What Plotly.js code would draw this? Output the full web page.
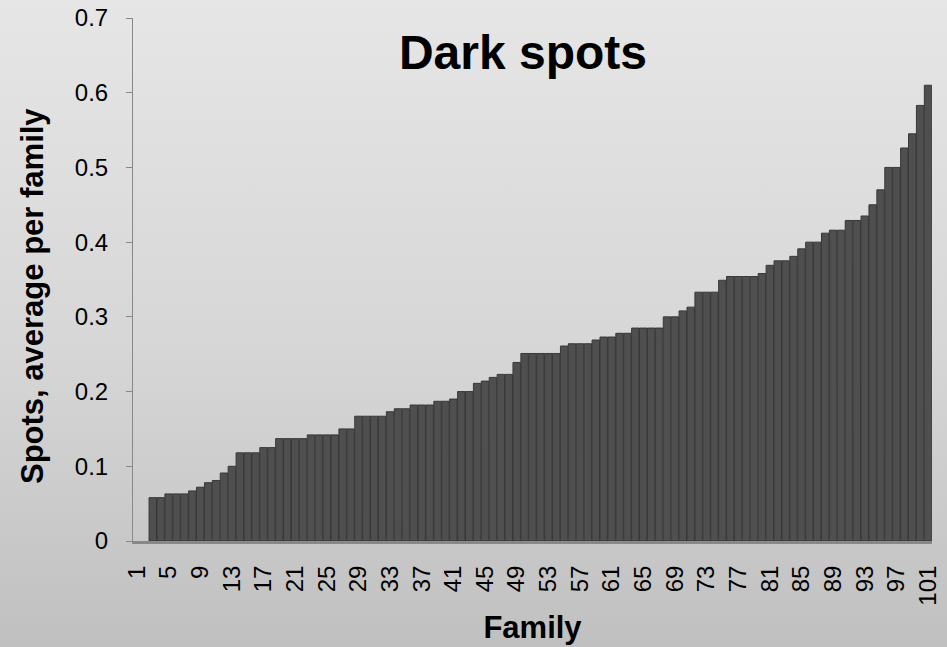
<!DOCTYPE html>
<html>
<head>
<meta charset="utf-8">
<script src="https://cdn.plot.ly/plotly-3.0.1.min.js"></script>
<style>
  html, body { margin: 0; padding: 0; }
  body { width: 947px; height: 647px; background: linear-gradient(to bottom, #e6e6e6 0%, #d6d6d6 55%, #c0c0c0 100%); }
  #chart { width: 947px; height: 647px; }
</style>
</head>
<body>
<div id="chart"></div>
<script>
const families = [];
for (let i = 1; i <= 101; i++) families.push(i);

// families 1 and 2 have no bar in the reference
const spots = [
  null, null, 0.058, 0.058, 0.063, 0.063, 0.063, 0.067, 0.072, 0.078,
  0.081, 0.091, 0.100, 0.118, 0.118, 0.118, 0.125, 0.125, 0.137, 0.137,
  0.137, 0.137, 0.142, 0.142, 0.142, 0.142, 0.150, 0.150, 0.167, 0.167,
  0.167, 0.167, 0.173, 0.177, 0.177, 0.182, 0.182, 0.182, 0.187, 0.187,
  0.190, 0.200, 0.200, 0.211, 0.214, 0.219, 0.223, 0.223, 0.239, 0.251,
  0.251, 0.251, 0.251, 0.251, 0.261, 0.264, 0.264, 0.264, 0.269, 0.273,
  0.273, 0.278, 0.278, 0.285, 0.285, 0.285, 0.285, 0.300, 0.300, 0.308,
  0.313, 0.333, 0.333, 0.333, 0.349, 0.354, 0.354, 0.354, 0.354, 0.358,
  0.369, 0.375, 0.375, 0.381, 0.391, 0.400, 0.400, 0.412, 0.416, 0.416,
  0.429, 0.429, 0.435, 0.450, 0.470, 0.500, 0.500, 0.526, 0.545, 0.583,
  0.610
];

const xTickVals = [1, 5, 9, 13, 17, 21, 25, 29, 33, 37, 41, 45, 49, 53, 57, 61, 65, 69, 73, 77, 81, 85, 89, 93, 97, 101];
const xTickText = ["1", "5", "9", "13", "17", "21", "25", "29", "33", "37", "41", "45", "49", "53", "57", "61", "65", "69", "73", "77", "81", "85", "89", "93", "97", "101"];

const titleText = "Dark spots";
const xTitle = "Family";
const yTitle = "Spots, average per family";

const FONT = "Liberation Sans, Arial, sans-serif";

const trace = {
  type: "bar",
  x: families,
  y: spots,
  marker: { color: "#4f4f4f", line: { color: "#383838", width: 1 } },
  hoverinfo: "x+y"
};

const layout = {
  width: 947,
  height: 647,
  paper_bgcolor: "rgba(0,0,0,0)",
  plot_bgcolor: "rgba(0,0,0,0)",
  margin: { l: 133, r: 15, t: 18, b: 106 },
  bargap: 0.06,
  showlegend: false,
  font: { family: FONT, color: "#000000", size: 24 },
  title: {
    text: "<b>" + titleText + "</b>",
    font: { family: FONT, size: 48, color: "#000000" },
    xref: "container", yref: "container",
    x: 523 / 947, xanchor: "center",
    y: 1 - 52 / 647, yanchor: "middle"
  },
  xaxis: {
    range: [0.5, 101.5],
    tickmode: "array",
    tickvals: xTickVals,
    ticktext: xTickText,
    tickangle: -90,
    ticks: "",
    ticklabelstandoff: 12,
    showline: true,
    linecolor: "#888888",
    linewidth: 3,
    showgrid: false,
    zeroline: false,
    tickfont: { family: FONT, size: 24, color: "#000000" },
    title: { text: "<b>" + xTitle + "</b>", font: { family: FONT, size: 31, color: "#000000" }, standoff: 12 }
  },
  yaxis: {
    range: [0, 0.7],
    dtick: 0.1,
    tick0: 0,
    ticks: "outside",
    ticklen: 6,
    tickcolor: "#888888",
    ticklabelstandoff: 13,
    showline: true,
    linecolor: "#888888",
    linewidth: 1,
    showgrid: false,
    zeroline: false,
    tickfont: { family: FONT, size: 24, color: "#000000" }
  },
  annotations: [{
    text: "<b>" + yTitle + "</b>",
    textangle: -90,
    font: { family: FONT, size: 31, color: "#000000" },
    xref: "paper", yref: "paper",
    x: (33 - 133) / 799, xanchor: "center",
    y: (541 - 296) / 523, yanchor: "middle",
    showarrow: false
  }]
};

Plotly.newPlot("chart", [trace], layout, { displayModeBar: false, staticPlot: true });
</script>
</body>
</html>
